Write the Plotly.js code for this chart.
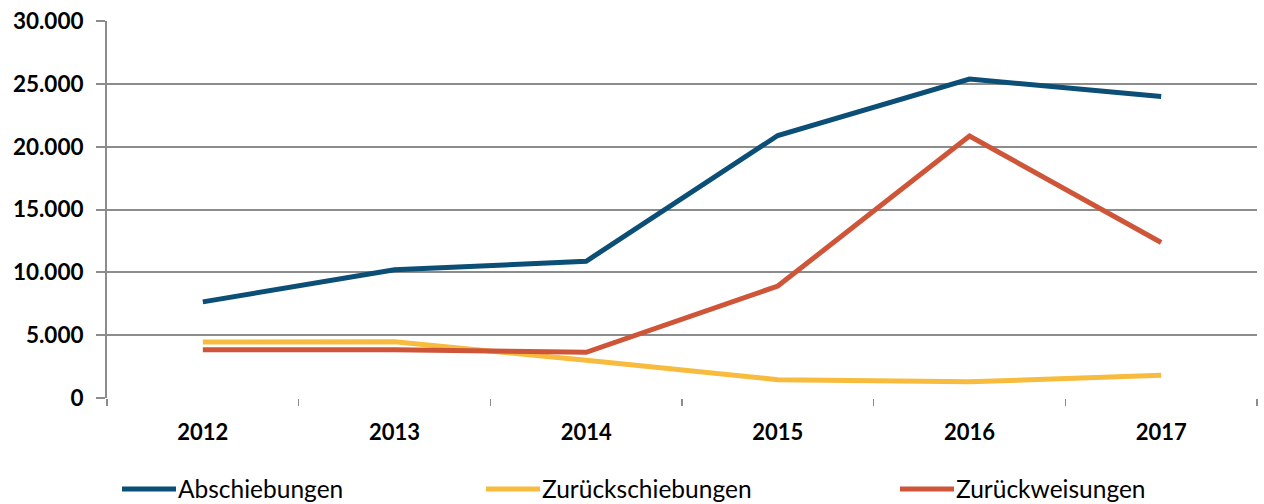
<!DOCTYPE html>
<html>
<head>
<meta charset="utf-8">
<script src="https://cdn.plot.ly/plotly-3.0.1.min.js"></script>
<style>html,body{margin:0;padding:0;background:#fff;}#chart{width:1264px;height:504px;}</style>
</head>
<body>
<div id="chart"></div>
<script>
const years = ['2012','2013','2014','2015','2016','2017'];
const abschiebungen = [7650, 10200, 10880, 20890, 25380, 24000];
const zurueckschiebungen = [4460, 4470, 3000, 1460, 1290, 1810];
const zurueckweisungen = [3830, 3830, 3640, 8910, 20850, 12370];
const seriesNames = ['Abschiebungen', 'Zurückschiebungen', 'Zurückweisungen'];
const seriesColors = ['#0b4e76', '#f7bb3e', '#cf5539'];
const yTicks = [0, 5000, 10000, 15000, 20000, 25000, 30000];

const allSeries = [abschiebungen, zurueckschiebungen, zurueckweisungen];
const traces = allSeries.map((vals, i) => ({
  x: years, y: vals, name: seriesNames[i], type: 'scatter', mode: 'lines',
  line: {color: seriesColors[i], width: 5}, showlegend: false, hoverinfo: 'skip'
}));

const legendX = [122, 486, 900];
const shapes = [], annotations = [];
legendX.forEach((px, i) => {
  shapes.push({type: 'line', xref: 'paper', yref: 'paper',
    x0: (px - 107) / 1150, x1: (px + 54 - 107) / 1150,
    y0: (398 - 489) / 377, y1: (398 - 489) / 377,
    line: {color: seriesColors[i], width: 5}});
  annotations.push({xref: 'paper', yref: 'paper',
    x: (px + 54 - 107) / 1150, y: (398 - 488) / 377,
    xanchor: 'left', yanchor: 'middle', showarrow: false,
    text: seriesNames[i], font: {family: 'Lato, sans-serif', size: 24.5, color: '#000'}});
});

const layout = {
  width: 1264, height: 504,
  margin: {l: 107, r: 7, t: 21, b: 106},
  paper_bgcolor: '#fff', plot_bgcolor: '#fff',
  separators: ',.',
  showlegend: false,
  font: {family: 'Lato, sans-serif', color: '#000'},
  xaxis: {
    type: 'category', range: [-0.5, 5.5], tickson: 'boundaries',
    ticks: 'outside', ticklen: 7, tickwidth: 1.5, tickcolor: '#8c8c8c',
    showgrid: false, zeroline: false, showline: false,
    tickfont: {family: 'Lato, sans-serif', size: 22, weight: 'bold', color: '#000'},
    ticklabelstandoff: 19, fixedrange: true
  },
  yaxis: {
    range: [0, 30000], tickvals: yTicks, tickformat: ',d',
    ticks: 'outside', ticklen: 9, tickwidth: 2, tickcolor: '#8c8c8c',
    showgrid: true, gridcolor: '#8c8c8c', gridwidth: 2,
    zeroline: false, showline: true, linecolor: '#8c8c8c', linewidth: 2,
    tickfont: {family: 'Lato, sans-serif', size: 22.5, weight: 'bold', color: '#000'},
    ticklabelstandoff: 8, fixedrange: true
  },
  shapes: shapes,
  annotations: annotations
};

Plotly.newPlot('chart', traces, layout, {displayModeBar: false, staticPlot: true});
</script>
</body>
</html>
